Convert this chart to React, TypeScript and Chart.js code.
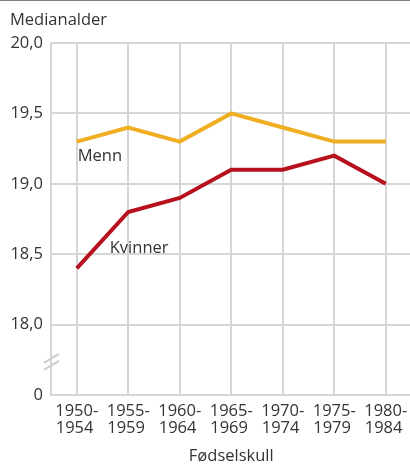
import { useEffect, useRef } from "react";
import { Chart, registerables } from "chart.js";

Chart.register(...registerables);

const periodStart = ["1950-", "1955-", "1960-", "1965-", "1970-", "1975-", "1980-"];
const periodEnd = ["1954", "1959", "1964", "1969", "1974", "1979", "1984"];
const menn = [19.3, 19.4, 19.3, 19.5, 19.4, 19.3, 19.3];
const kvinner = [18.4, 18.8, 18.9, 19.1, 19.1, 19.2, 19.0];
const yTickValues = [17.5, 18, 18.5, 19, 19.5, 20];
const yTickLabels = ["0", "18,0", "18,5", "19,0", "19,5", "20,0"];
const seriesNames = ["Menn", "Kvinner"];
const yAxisTitle = "Medianalder";
const xAxisTitle = "Fødselskull";

const FONT = "'Open Sans', 'Noto Sans', sans-serif";
const TEXT = "#333333";
const GRID = "#d6d6d6";
const MENN_COLOR = "#f0ae22";
const KVINNER_COLOR = "#b8111e";

export default function App() {
  const ref = useRef<HTMLCanvasElement | null>(null);

  useEffect(() => {
    if (!ref.current) return;
    const extras = {
      id: "extras",
      afterDraw(chart: any) {
        const ctx = chart.ctx;
        const ca = chart.chartArea;
        const xs = chart.scales.x;
        const ys = chart.scales.y;
        ctx.save();
        // top rule
        ctx.fillStyle = "#808080";
        ctx.fillRect(0, 0, 410, 1);
        // titles
        ctx.fillStyle = TEXT;
        ctx.font = `16.5px ${FONT}`;
        ctx.textBaseline = "alphabetic";
        ctx.textAlign = "left";
        ctx.fillText(yAxisTitle, 10, 25);
        ctx.textAlign = "center";
        ctx.fillText(xAxisTitle, (ca.left + ca.right) / 2, 461);
        // series labels
        ctx.textAlign = "left";
        ctx.textBaseline = "middle";
        ctx.fillText(seriesNames[0], xs.getPixelForValue(0) + 1, ys.getPixelForValue(menn[0]) + 15);
        ctx.fillText(seriesNames[1], xs.getPixelForValue(0) + 33, ys.getPixelForValue(18.5) - 6);
        // axis break marker
        const yb = (ys.getPixelForValue(17.5) + ys.getPixelForValue(18)) / 2;
        ctx.strokeStyle = "#cccccc";
        ctx.lineWidth = 2;
        ctx.beginPath();
        ctx.moveTo(ca.left - 7, yb + 3);
        ctx.lineTo(ca.left + 8, yb - 6);
        ctx.moveTo(ca.left - 7, yb + 10);
        ctx.lineTo(ca.left + 8, yb + 1);
        ctx.stroke();
        ctx.restore();
      },
    };

    const chart = new Chart(ref.current, {
      type: "line",
      data: {
        labels: periodStart.map((s, i) => [s, periodEnd[i] + " "]),
        datasets: [
          {
            label: seriesNames[0],
            data: menn,
            borderColor: MENN_COLOR,
            backgroundColor: MENN_COLOR,
            borderWidth: 4,
            pointRadius: 0,
            tension: 0,
          },
          {
            label: seriesNames[1],
            data: kvinner,
            borderColor: KVINNER_COLOR,
            backgroundColor: KVINNER_COLOR,
            borderWidth: 4,
            pointRadius: 0,
            tension: 0,
          },
        ],
      },
      options: {
        responsive: false,
        animation: false,
        layout: { padding: { left: 0, right: 48.5, top: 43, bottom: 0 } },
        plugins: {
          legend: { display: false },
          tooltip: { enabled: false },
          title: { display: false },
        },
        scales: {
          x: {
            type: "category",
            offset: true,
            grid: { color: GRID, lineWidth: 2, drawTicks: false, offset: false },
            border: { color: GRID, width: 2 },
            ticks: {
              color: TEXT,
              font: { family: FONT, size: 16.5, lineHeight: 1.03 },
              padding: 8,
              maxRotation: 0,
              autoSkip: false,
            },
            afterFit(scale: any) {
              scale.height = 70;
            },
          },
          y: {
            type: "linear",
            min: 17.5,
            max: 20,
            grid: { color: GRID, lineWidth: 2, drawTicks: false },
            border: { color: GRID, width: 2 },
            afterBuildTicks(scale: any) {
              scale.ticks = yTickValues.map((v) => ({ value: v }));
            },
            ticks: {
              color: TEXT,
              font: { family: FONT, size: 16.5 },
              padding: 8,
              callback: (v: any) => {
                const i = yTickValues.indexOf(Number(v));
                return i >= 0 ? yTickLabels[i] : "";
              },
            },
            afterFit(scale: any) {
              scale.width = 51;
            },
          },
        },
      },
      plugins: [extras],
    });
    return () => chart.destroy();
  }, []);

  return (
    <div style={{ position: "fixed", left: 0, top: 0, width: 410, height: 465, overflow: "hidden", background: "#fff" }}>
      <canvas ref={ref} width={460} height={465} style={{ display: "block" }} />
    </div>
  );
}
